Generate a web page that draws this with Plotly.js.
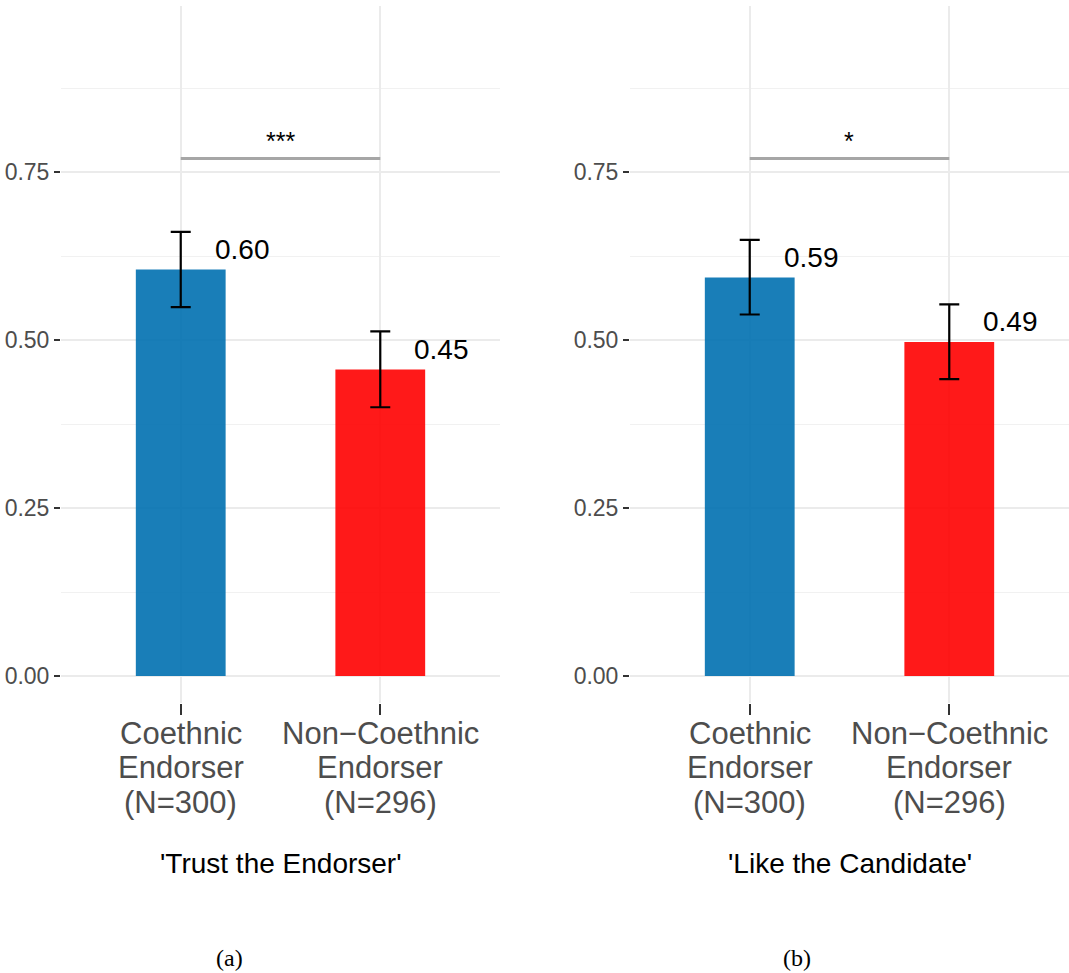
<!DOCTYPE html>
<html>
<head>
<meta charset="utf-8">
<script src="https://cdn.plot.ly/plotly-3.0.1.min.js"></script>
<style>
  html, body { margin: 0; padding: 0; background: #ffffff; }
  #chart { width: 1069px; height: 973px; }
</style>
</head>
<body>
<div id="chart"></div>
<script>
// Endorsement experiment: mean responses by endorser type
const categories = ['Coethnic', 'Non-Coethnic'];
const tickLabelLines = [
  ['Coethnic', 'Endorser', '(N=300)'],
  ['Non\u2212Coethnic', 'Endorser', '(N=296)']
];

// Panel (a): 'Trust the Endorser'
const trustMean = [0.605, 0.456];
const trustLow  = [0.549, 0.400];
const trustHigh = [0.661, 0.513];
const trustStars = '***';

// Panel (b): 'Like the Candidate'
const likeMean = [0.593, 0.497];
const likeLow  = [0.538, 0.442];
const likeHigh = [0.649, 0.553];
const likeStars = '*';

const bracketLevel = 0.77;
const panelTitles = ["'Trust the Endorser'", "'Like the Candidate'"];
const panelCaptions = ['(a)', '(b)'];
const yTicks = [0, 0.25, 0.5, 0.75];

const barColors = ['rgba(0,112,176,0.9)', 'rgba(255,0,0,0.9)'];
const sans = 'Liberation Sans, Arial, Helvetica, sans-serif';
const W = 1069, H = 973;

// truncated two-decimal labels
const fmt = v => (Math.floor(v * 100 + 1e-9) / 100).toFixed(2);

const panels = [
  { mean: trustMean, low: trustLow, high: trustHigh, stars: trustStars, xa: 'x', ya: 'y' },
  { mean: likeMean, low: likeLow, high: likeHigh, stars: likeStars, xa: 'x2', ya: 'y2' }
];

const traces = [];
const annotations = [];

panels.forEach((p, k) => {
  traces.push({
    type: 'bar',
    x: categories,
    y: p.mean,
    xaxis: p.xa, yaxis: p.ya,
    width: 0.45,
    marker: { color: barColors, line: { width: 0 } },
    error_y: {
      type: 'data', symmetric: false,
      array: p.high.map((h, i) => h - p.mean[i]),
      arrayminus: p.low.map((l, i) => p.mean[i] - l),
      color: '#000000', thickness: 2.2, width: 10
    },
    hoverinfo: 'skip', showlegend: false
  });
  // significance bracket
  traces.push({
    type: 'scatter', mode: 'lines',
    x: categories, y: [bracketLevel, bracketLevel],
    xaxis: p.xa, yaxis: p.ya,
    line: { color: '#a6a6a6', width: 3 },
    hoverinfo: 'skip', showlegend: false
  });
  annotations.push({
    xref: p.xa, yref: p.ya, x: 0.5, y: bracketLevel + 0.026,
    text: p.stars, showarrow: false, xanchor: 'center', yanchor: 'middle',
    font: { family: sans, size: 25, color: '#000000' }
  });
  // value labels
  p.mean.forEach((v, i) => {
    annotations.push({
      xref: p.xa, yref: p.ya, x: i + 0.16, y: v + 0.03,
      text: fmt(v), showarrow: false, xanchor: 'left', yanchor: 'middle',
      font: { family: sans, size: 28, color: '#000000' }
    });
  });
  // category labels, one line each
  tickLabelLines.forEach((lines, i) => {
    lines.forEach((line, j) => {
      annotations.push({
        xref: p.xa, yref: 'paper', x: i, y: 1 - (733 + j * 34.5) / H,
        text: line, showarrow: false, xanchor: 'center', yanchor: 'middle',
        font: { family: sans, size: 31, color: '#4d4d4d' }
      });
    });
  });
});

// panel titles and captions
const panelCenters = [280.5, 849.5];
const captionCenters = [229, 797];
panelTitles.forEach((t, k) => {
  annotations.push({
    xref: 'paper', yref: 'paper', x: panelCenters[k] / W, y: 1 - 863 / H,
    text: t, showarrow: false, xanchor: 'center', yanchor: 'middle',
    font: { family: sans, size: 28, color: '#000000' }
  });
  annotations.push({
    xref: 'paper', yref: 'paper', x: captionCenters[k] / W, y: 1 - 958 / H,
    text: panelCaptions[k], showarrow: false, xanchor: 'center', yanchor: 'middle',
    font: { family: 'Liberation Serif, Times New Roman, serif', size: 24, color: '#000000' }
  });
});

const yDomain = [(H - 703) / H, (H - 6) / H];

const xAxisBase = {
  type: 'category', range: [-0.6, 1.6], fixedrange: true,
  showgrid: true, gridcolor: '#ebebeb', gridwidth: 2,
  showline: false, zeroline: false,
  ticks: 'outside', ticklen: 11, tickwidth: 2, tickcolor: '#333333',
  showticklabels: false
};
const yAxisBase = {
  range: [-0.040, 0.997], fixedrange: true, domain: yDomain,
  tickvals: yTicks, tickformat: '.2f',
  showgrid: true, gridcolor: '#ebebeb', gridwidth: 2,
  minor: { dtick: 0.125, showgrid: true, gridcolor: '#f1f1f1', gridwidth: 1, ticks: '' },
  showline: false, zeroline: false,
  ticks: 'outside', ticklen: 6, tickwidth: 2, tickcolor: '#333333',
  tickfont: { family: sans, size: 23, color: '#4d4d4d' }
};

const layout = {
  width: W, height: H, autosize: false,
  margin: { l: 0, r: 0, t: 0, b: 0, pad: 0 },
  paper_bgcolor: '#ffffff', plot_bgcolor: '#ffffff',
  barmode: 'group',
  showlegend: false,
  xaxis: Object.assign({}, xAxisBase, { domain: [61 / W, 500 / W], anchor: 'y' }),
  xaxis2: Object.assign({}, xAxisBase, { domain: [630 / W, 1], anchor: 'y2' }),
  yaxis: Object.assign({}, yAxisBase, { anchor: 'x' }),
  yaxis2: Object.assign({}, yAxisBase, { anchor: 'x2' }),
  annotations: annotations
};

Plotly.newPlot('chart', traces, layout, { displayModeBar: false, staticPlot: true });
</script>
</body>
</html>
